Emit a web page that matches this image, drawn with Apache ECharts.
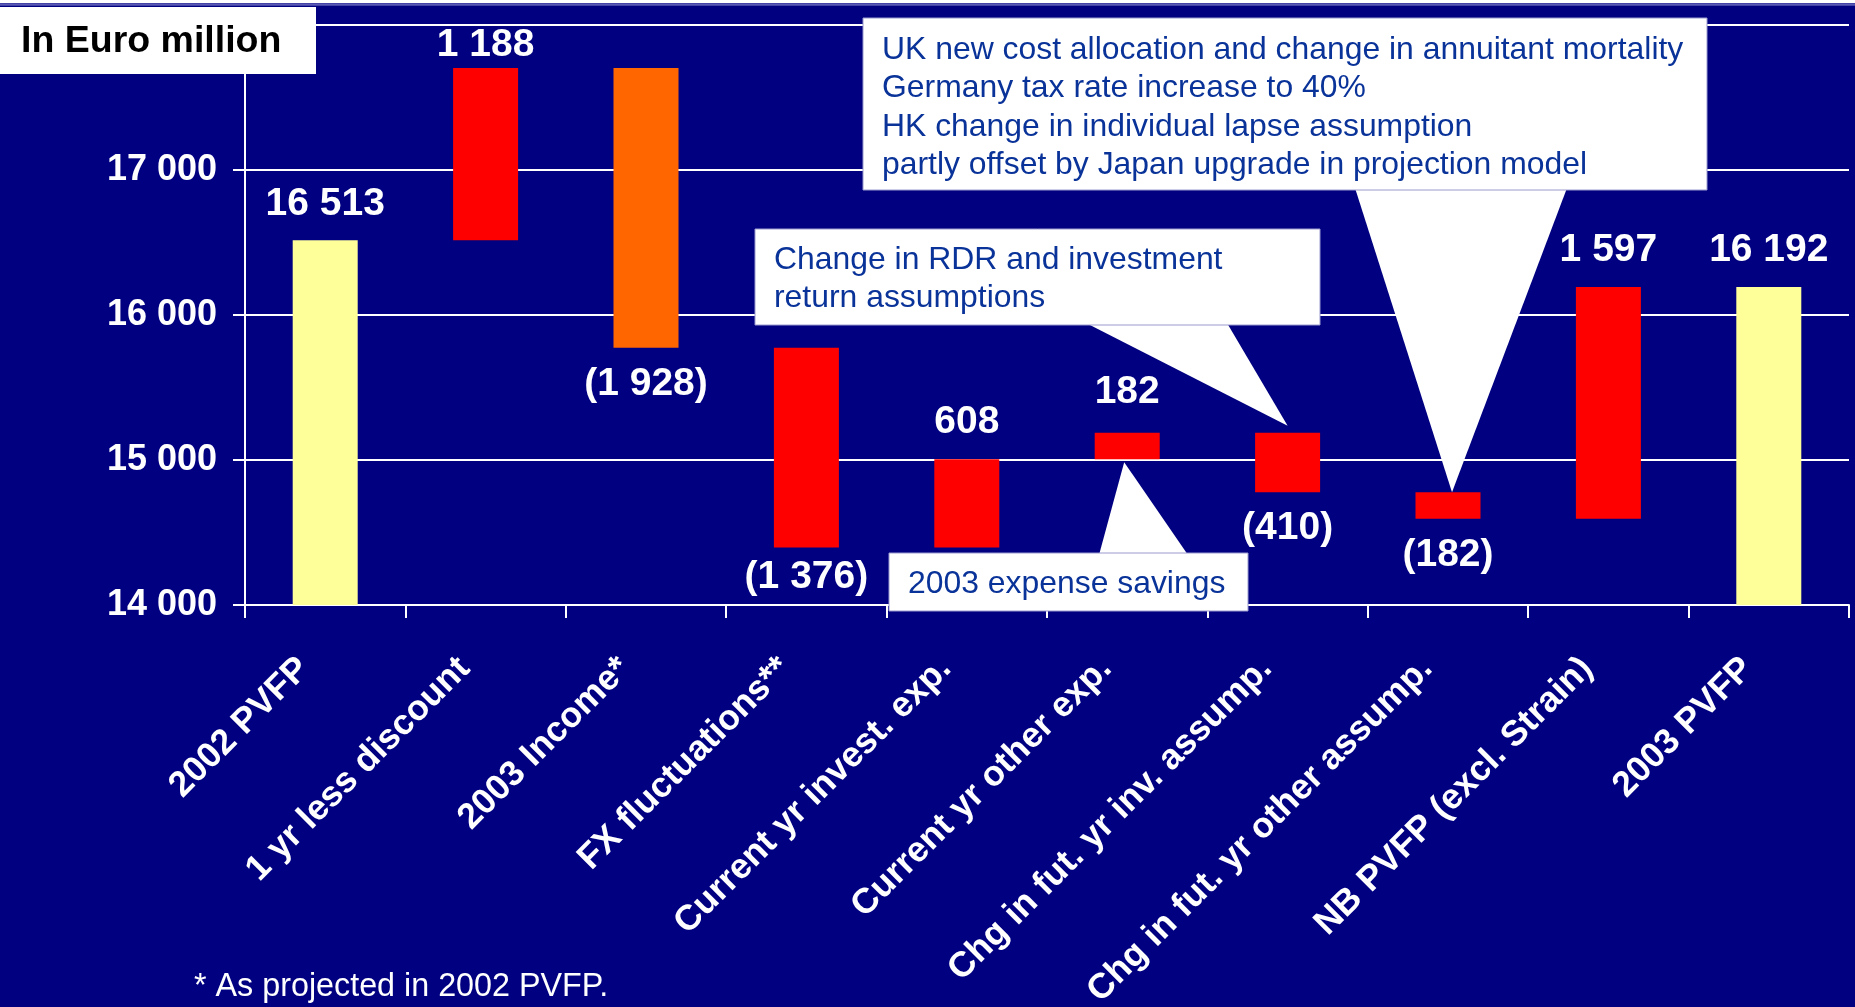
<!DOCTYPE html>
<html>
<head>
<meta charset="utf-8">
<script src="https://cdn.jsdelivr.net/npm/echarts@6/dist/echarts.min.js"></script>
<style>
html,body{margin:0;padding:0;background:#000080;}
#chart{width:1855px;height:1007px;}
</style>
</head>
<body>
<div id="chart"></div>
<script>
// ---- data ----
const categories = [
  '2002 PVFP', '1 yr less discount', '2003 Income*', 'FX fluctuations**',
  'Current yr invest. exp.', 'Current yr other exp.', 'Chg in fut. yr inv. assump.',
  'Chg in fut. yr other assump.', 'NB PVFP (excl. Strain)', '2003 PVFP'
];
const changes = [16513, 1188, -1928, -1376, 608, 182, -410, -182, 1597, 16192];
const barKinds = ['total', 'step', 'income', 'step', 'step', 'step', 'step', 'step', 'step', 'total'];
const yTicks = [14000, 15000, 16000, 17000, 18000];
const unitLabel = 'In Euro million';
const footnote = '* As projected in 2002 PVFP.';
const noteAssumptions = [
  'UK new cost allocation and change in annuitant mortality',
  'Germany tax rate increase to 40%',
  'HK change in individual lapse assumption',
  'partly offset by Japan upgrade in projection model'
];
const noteRdr = ['Change in RDR and investment', 'return assumptions'];
const noteExpense = ['2003 expense savings'];

// ---- derived waterfall geometry (values only) ----
const lows = [], highs = [];
let running = 0;
changes.forEach((v, i) => {
  if (barKinds[i] === 'total') { lows.push(0); highs.push(v); running = v; }
  else { const end = running + v; lows.push(Math.min(running, end)); highs.push(Math.max(running, end)); running = end; }
});

const FONT = '"Liberation Sans", Arial, Helvetica, sans-serif';
const kindColor = { total: '#FFFF99', step: '#FF0000', income: '#FF6600' };
// small hand placement of a few value labels, as in the original slide (pixels)
const labelShiftY = { 1: 14, 3: -7, 5: -4 };
const fmtNum = n => String(Math.abs(n)).replace(/\B(?=(\d{3})+(?!\d))/g, ' ');
const fmtVal = n => n < 0 ? '(' + fmtNum(n) + ')' : fmtNum(n);

const chart = echarts.init(document.getElementById('chart'), null, { renderer: 'canvas' });

const visibleData = changes.map((v, i) => ({
  value: highs[i] - lows[i],
  itemStyle: { color: kindColor[barKinds[i]] },
  label: { position: v < 0 ? 'bottom' : 'top', offset: [0, labelShiftY[i] || 0] }
}));

chart.setOption({
  backgroundColor: '#000080',
  animation: false,
  grid: { left: 245, right: 6, top: 24.5, bottom: 402, containLabel: false, outerBoundsMode: 'none' },
  xAxis: {
    type: 'category',
    data: categories,
    boundaryGap: true,
    axisLine: { show: true, lineStyle: { color: '#FFFFFF', width: 2 } },
    axisTick: { show: true, interval: 0, length: 13, lineStyle: { color: '#FFFFFF', width: 2 } },
    axisLabel: {
      interval: 0, rotate: 45, margin: 37, padding: [0, 30, 0, 0],
      color: '#FFFFFF', fontFamily: FONT, fontWeight: 'bold', fontSize: 35.5
    },
    splitLine: { show: false }
  },
  yAxis: {
    type: 'value',
    min: yTicks[0], max: yTicks[yTicks.length - 1], interval: yTicks[1] - yTicks[0],
    axisLine: { show: true, lineStyle: { color: '#FFFFFF', width: 2 } },
    axisTick: { show: true, length: 12, lineStyle: { color: '#FFFFFF', width: 2 } },
    axisLabel: {
      margin: 28, color: '#FFFFFF', fontFamily: FONT, fontWeight: 'bold', fontSize: 36,
      formatter: v => (v === yTicks[yTicks.length - 1] ? '' : fmtNum(v))
    },
    splitLine: { show: true, lineStyle: { color: '#FFFFFF', width: 2 } }
  },
  series: [
    {
      name: 'base', type: 'bar', stack: 'wf', barWidth: 65, silent: true,
      itemStyle: { color: 'rgba(0,0,0,0)' },
      data: lows
    },
    {
      name: 'change', type: 'bar', stack: 'wf', barWidth: 65,
      data: visibleData,
      label: {
        show: true, distance: 17, color: '#FFFFFF', fontFamily: FONT, fontWeight: 'bold', fontSize: 39,
        formatter: p => fmtVal(changes[p.dataIndex])
      }
    }
  ]
});

// ---- annotations (callouts pointing to bars via the chart's own scales) ----
const px = (i, v) => chart.convertToPixel({ gridIndex: 0 }, [i, v]);
const tipAssump = px(7, highs[7]);
const tipRdr = px(6, highs[6]);
const tipExp = px(5, lows[5]);
const calloutText = { fill: '#0A3399', font: '31.9px ' + FONT };

chart.setOption({
  graphic: [
    { type: 'rect', z: 100, shape: { x: 0, y: 0, width: 1855, height: 3 }, style: { fill: '#FFFFFF' } },
    { type: 'line', z: 100, shape: { x1: 0, y1: 4.5, x2: 1855, y2: 4.5 }, style: { stroke: '#5A5AB4', lineWidth: 2.5 } },
    // unit box
    { type: 'rect', z: 100, shape: { x: 0, y: 7, width: 316, height: 67 }, style: { fill: '#FFFFFF' } },
    { type: 'text', z: 101, x: 21, y: 42, style: { text: unitLabel, fill: '#000000', font: 'bold 37.5px ' + FONT, verticalAlign: 'middle' } },
    // assumptions callout
    { type: 'polygon', z: 100, shape: { points: [[1355, 188], [1567, 188], [tipAssump[0] + 4, tipAssump[1]]] }, style: { fill: '#FFFFFF' } },
    { type: 'rect', z: 100, shape: { x: 863, y: 18, width: 844, height: 172 }, style: { fill: '#FFFFFF', stroke: '#9A9AD0', lineWidth: 1 } },
    { type: 'text', z: 101, x: 882, y: 30.8, style: Object.assign({ text: noteAssumptions.join('\n'), lineHeight: 38.4, verticalAlign: 'top' }, calloutText) },
    // RDR callout
    { type: 'polygon', z: 100, shape: { points: [[1086, 323], [1227, 323], [tipRdr[0], tipRdr[1] - 7]] }, style: { fill: '#FFFFFF' } },
    { type: 'rect', z: 100, shape: { x: 755, y: 229, width: 565, height: 96 }, style: { fill: '#FFFFFF', stroke: '#9A9AD0', lineWidth: 1 } },
    { type: 'text', z: 101, x: 774, y: 241, style: Object.assign({ text: noteRdr.join('\n'), lineHeight: 38.4, verticalAlign: 'top' }, calloutText) },
    // expense callout
    { type: 'polygon', z: 100, shape: { points: [[1099, 555], [1188, 555], [tipExp[0] - 3, tipExp[1] + 3]] }, style: { fill: '#FFFFFF' } },
    { type: 'rect', z: 100, shape: { x: 889, y: 553, width: 359, height: 58 }, style: { fill: '#FFFFFF', stroke: '#9A9AD0', lineWidth: 1 } },
    { type: 'text', z: 101, x: 908, y: 584, style: Object.assign({ text: noteExpense.join('\n'), verticalAlign: 'middle' }, calloutText) },
    // footnote
    { type: 'text', z: 101, x: 194, y: 987, style: { text: footnote, fill: '#FFFFFF', font: '32.3px ' + FONT, verticalAlign: 'middle' } }
  ]
});
</script>
</body>
</html>
